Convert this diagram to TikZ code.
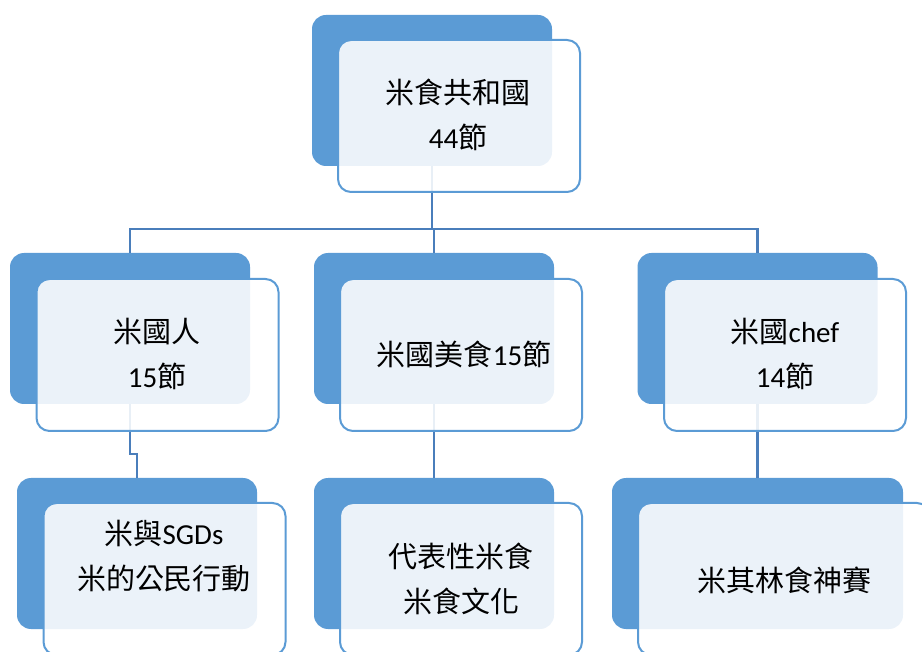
\documentclass[tikz,border=0pt]{standalone}
\usepackage{fontspec}
\setmainfont{Carlito}
\newfontfamily\cjk{Noto Sans CJK TC}
\usetikzlibrary{positioning}
\definecolor{azul}{RGB}{91,155,213}
\definecolor{linea}{RGB}{74,126,187}
\tikzset{
    back/.style={rectangle, rounded corners=14pt, fill=azul, minimum width=240pt, minimum height=151pt, inner sep=0pt},
    backW/.style={back, minimum width=291pt},
    front/.style={rectangle, rounded corners=13pt, draw=azul, line width=2pt, fill=white, fill opacity=0.88, minimum width=242pt, minimum height=152pt, inner sep=0pt},
    frontW/.style={front, minimum width=292pt},
    txt/.style={text=black, align=center, font=\fontsize{29}{45}\selectfont},
    conn/.style={-, linea, line width=2.6pt},
}

\begin{document}
\begin{tikzpicture}[x=1pt, y=-1pt]
    \clip (0,0) rectangle (922,652);
    \useasboundingbox (0,0) rectangle (922,652);

    % back boxes
    \node[back] (top-b) at (432,90.5) {};
    \node[back] (l1-b) at (130,328.5) {};
    \node[back] (m1-b) at (434,328.5) {};
    \node[back] (r1-b) at (757.5,328.5) {};
    \node[back] (l2-b) at (137,553.5) {};
    \node[back] (m2-b) at (434,553.5) {};
    \node[backW] (r2-b) at (757.5,553.5) {};

    % connectors
    \coordinate (bar) at (432,229);
    \draw[conn] (top-b.south) -- (top-b.south |- bar);
    \draw[conn] (l1-b.north) |- (bar) -| (r1-b.north);
    \draw[conn] (m1-b.north) -- (m1-b.north |- bar);
    \draw[conn] (l1-b.south) -- ++(0,50) -| (l2-b.north);
    \draw[conn] (m1-b.south) -- (m2-b.north);
    \draw[conn] (r1-b.south) -- (r2-b.north);

    % front boxes
    \node[front] (top-f) at (459,116) {};
    \node[front] (l1-f) at (157.5,355) {};
    \node[front] (m1-f) at (461,355) {};
    \node[front] (r1-f) at (785,355) {};
    \node[front] (l2-f) at (164.5,579) {};
    \node[front] (m2-f) at (461,579) {};
    \node[frontW] (r2-f) at (784,579) {};

    % labels
    \node[txt] (top-t) at (458,115) {{\cjk 米食共和國}\\44{\cjk 節}};
    \node[txt] (l1-t) at (157,354) {{\cjk 米國人}\\15{\cjk 節}};
    \node[txt] (m1-t) at (464,354) {{\cjk 米國美食}15{\cjk 節}};
    \node[txt] (r1-t) at (785,354) {{\cjk 米國}chef\\14{\cjk 節}};
    \node[txt] (l2-t) at (164,556) {{\cjk 米與}SGDs\\{\cjk 米的公民行動}};
    \node[txt] (m2-t) at (461,579) {{\cjk 代表性米食}\\{\cjk 米食文化}};
    \node[txt] (r2-t) at (784,580) {{\cjk 米其林食神賽}};
\end{tikzpicture}
\end{document}
